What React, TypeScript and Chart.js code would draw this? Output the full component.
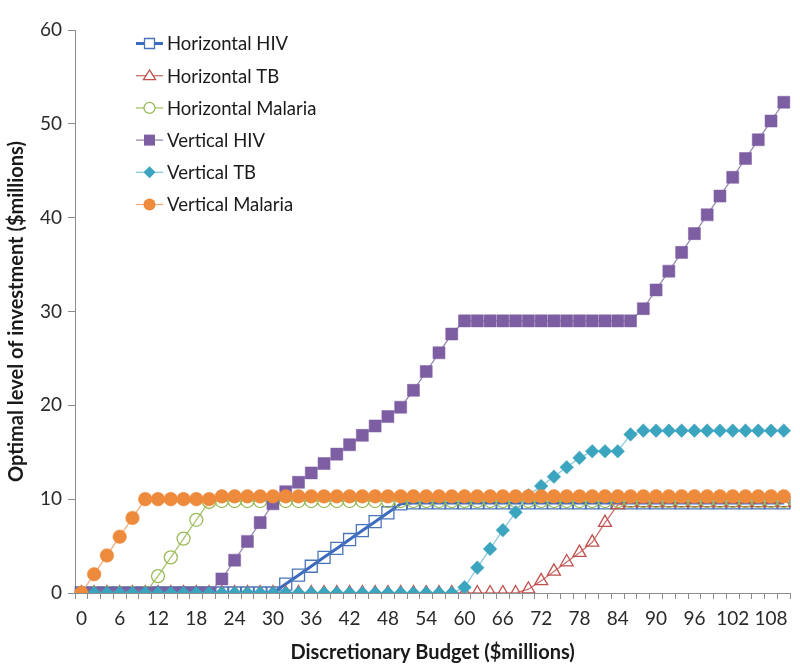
import React, { useEffect, useRef } from "react";
import { Chart, registerables } from "chart.js";

Chart.register(...registerables);

const budgets = [0, 2, 4, 6, 8, 10, 12, 14, 16, 18, 20, 22, 24, 26, 28, 30, 32, 34, 36, 38, 40, 42, 44, 46, 48, 50, 52, 54, 56, 58, 60, 62, 64, 66, 68, 70, 72, 74, 76, 78, 80, 82, 84, 86, 88, 90, 92, 94, 96, 98, 100, 102, 104, 106, 108, 110];

const horizontalHIV = [0, 0, 0, 0, 0, 0, 0, 0, 0, 0, 0, 0, 0, 0, 0, 0, 0.95, 1.9, 2.85, 3.8, 4.75, 5.7, 6.65, 7.6, 8.55, 9.5, 9.6, 9.6, 9.6, 9.6, 9.6, 9.6, 9.6, 9.6, 9.6, 9.6, 9.6, 9.6, 9.6, 9.6, 9.6, 9.6, 9.6, 9.6, 9.6, 9.6, 9.6, 9.6, 9.6, 9.6, 9.6, 9.6, 9.6, 9.6, 9.6, 9.6];

const horizontalTB = [0, 0, 0, 0, 0, 0, 0, 0, 0, 0, 0, 0, 0, 0, 0, 0, 0, 0, 0, 0, 0, 0, 0, 0, 0, 0, 0, 0, 0, 0, 0, 0, 0, 0, 0, 0.4, 1.3, 2.3, 3.3, 4.3, 5.4, 7.5, 9.4, 9.6, 9.6, 9.6, 9.6, 9.6, 9.6, 9.6, 9.6, 9.6, 9.6, 9.6, 9.6, 9.6];

const horizontalMalaria = [0, 0, 0, 0, 0, 0, 1.8, 3.8, 5.8, 7.8, 9.7, 9.8, 9.8, 9.8, 9.8, 9.8, 9.8, 9.8, 9.8, 9.8, 9.8, 9.8, 9.8, 9.8, 9.8, 9.8, 9.8, 9.8, 9.8, 9.8, 9.8, 9.8, 9.8, 9.8, 9.8, 9.8, 9.8, 9.8, 9.8, 9.8, 9.8, 9.8, 9.8, 9.8, 9.8, 9.8, 9.8, 9.8, 9.8, 9.8, 9.8, 9.8, 9.8, 9.8, 9.8, 9.8];

const verticalHIV = [0, 0, 0, 0, 0, 0, 0, 0, 0, 0, 0, 1.5, 3.5, 5.5, 7.5, 9.5, 10.8, 11.8, 12.8, 13.8, 14.8, 15.8, 16.8, 17.8, 18.8, 19.8, 21.6, 23.6, 25.6, 27.6, 29.0, 29.0, 29.0, 29.0, 29.0, 29.0, 29.0, 29.0, 29.0, 29.0, 29.0, 29.0, 29.0, 29.0, 30.3, 32.3, 34.3, 36.3, 38.3, 40.3, 42.3, 44.3, 46.3, 48.3, 50.3, 52.3];

const verticalTB = [0, 0, 0, 0, 0, 0, 0, 0, 0, 0, 0, 0, 0, 0, 0, 0, 0, 0, 0, 0, 0, 0, 0, 0, 0, 0, 0, 0, 0, 0, 0.6, 2.7, 4.7, 6.7, 8.6, 10.4, 11.4, 12.4, 13.4, 14.4, 15.1, 15.1, 15.1, 16.9, 17.3, 17.3, 17.3, 17.3, 17.3, 17.3, 17.3, 17.3, 17.3, 17.3, 17.3, 17.3];

const verticalMalaria = [0, 2, 4, 6, 8, 10, 10, 10, 10, 10, 10, 10.3, 10.3, 10.3, 10.3, 10.3, 10.3, 10.3, 10.3, 10.3, 10.3, 10.3, 10.3, 10.3, 10.3, 10.3, 10.3, 10.3, 10.3, 10.3, 10.3, 10.3, 10.3, 10.3, 10.3, 10.3, 10.3, 10.3, 10.3, 10.3, 10.3, 10.3, 10.3, 10.3, 10.3, 10.3, 10.3, 10.3, 10.3, 10.3, 10.3, 10.3, 10.3, 10.3, 10.3, 10.3];

const seriesNames = ["Horizontal HIV", "Horizontal TB", "Horizontal Malaria", "Vertical HIV", "Vertical TB", "Vertical Malaria"];

const FONT = "Lato, 'Open Sans', sans-serif";

type LegendItemStyle = {
  line: string;
  lineWidth: number;
  marker: string;
  fill: string | null;
  shape: "rect" | "triangle" | "circle" | "rectRot";
  size: number;
};

const legendStyles: LegendItemStyle[] = [
  { line: "#3a6bbf", lineWidth: 3, marker: "#4a74b8", fill: null, shape: "rect", size: 5 },
  { line: "#c9716e", lineWidth: 1.3, marker: "#c0504d", fill: null, shape: "triangle", size: 6 },
  { line: "#a8c46e", lineWidth: 1.3, marker: "#9bbb59", fill: null, shape: "circle", size: 5.5 },
  { line: "#9a8ab2", lineWidth: 1.3, marker: "#7d5ea2", fill: "#7d5ea2", shape: "rect", size: 5.5 },
  { line: "#8ccbdb", lineWidth: 1.3, marker: "#3ba4be", fill: "#3ba4be", shape: "rectRot", size: 6 },
  { line: "#f1ad7c", lineWidth: 1.3, marker: "#ee8a3c", fill: "#ee8a3c", shape: "circle", size: 6 },
];

function drawMarker(ctx: CanvasRenderingContext2D, s: LegendItemStyle, x: number, y: number) {
  ctx.beginPath();
  const r = s.size;
  if (s.shape === "rect") {
    ctx.rect(x - r, y - r, 2 * r, 2 * r);
  } else if (s.shape === "circle") {
    ctx.arc(x, y, r, 0, Math.PI * 2);
  } else if (s.shape === "rectRot") {
    ctx.moveTo(x - r, y);
    ctx.lineTo(x, y - r);
    ctx.lineTo(x + r, y);
    ctx.lineTo(x, y + r);
    ctx.closePath();
  } else {
    const h = r * 1.6;
    ctx.moveTo(x, y - h * 0.6);
    ctx.lineTo(x + r, y + h * 0.4);
    ctx.lineTo(x - r, y + h * 0.4);
    ctx.closePath();
  }
  if (s.fill) {
    ctx.fillStyle = s.fill;
    ctx.fill();
  } else {
    ctx.fillStyle = "#ffffff";
    ctx.fill();
    ctx.strokeStyle = s.marker;
    ctx.lineWidth = 1.3;
    ctx.stroke();
  }
}

const insideLegend = {
  id: "insideLegend",
  afterDraw(chart: any) {
    const ctx: CanvasRenderingContext2D = chart.ctx;
    const area = chart.chartArea;
    const x0 = area.left + 61;
    const x1 = area.left + 88;
    const textX = area.left + 92;
    const y0 = area.top + 13.5;
    const dy = 32.2;
    ctx.save();
    seriesNames.forEach((name, i) => {
      const s = legendStyles[i];
      const y = y0 + i * dy;
      ctx.beginPath();
      ctx.strokeStyle = s.line;
      ctx.lineWidth = s.lineWidth;
      ctx.moveTo(x0, y);
      ctx.lineTo(x1, y);
      ctx.stroke();
      drawMarker(ctx, s, (x0 + x1) / 2, y);
      ctx.fillStyle = "#1a1a1a";
      ctx.font = `18.5px ${FONT}`;
      ctx.textAlign = "left";
      ctx.textBaseline = "middle";
      ctx.fillText(name, textX, y + 1);
    });
    ctx.restore();
  },
};

export default function App() {
  const canvasRef = useRef<HTMLCanvasElement | null>(null);

  useEffect(() => {
    if (!canvasRef.current) return;
    const chart = new Chart(canvasRef.current, {
      type: "line",
      data: {
        labels: budgets.map(String),
        datasets: [
          {
            label: seriesNames[0],
            data: horizontalHIV,
            borderColor: "#3a6bbf",
            borderWidth: 3,
            pointStyle: "rect",
            pointRadius: 8.5,
            pointBorderColor: "#4a74b8",
            pointBackgroundColor: "rgba(255,255,255,0)",
            pointBorderWidth: 1.3,
            order: 5,
          },
          {
            label: seriesNames[1],
            data: horizontalTB,
            borderColor: "#c9716e",
            borderWidth: 1.3,
            pointStyle: "triangle",
            pointRadius: 7.5,
            pointBorderColor: "#c0504d",
            pointBackgroundColor: "rgba(255,255,255,0)",
            pointBorderWidth: 1.3,
            order: 4,
          },
          {
            label: seriesNames[2],
            data: horizontalMalaria,
            borderColor: "#a8c46e",
            borderWidth: 1.3,
            pointStyle: "circle",
            pointRadius: 6.5,
            pointBorderColor: "#9bbb59",
            pointBackgroundColor: "rgba(255,255,255,0)",
            pointBorderWidth: 1.3,
            order: 3,
          },
          {
            label: seriesNames[3],
            data: verticalHIV,
            borderColor: "#9a8ab2",
            borderWidth: 1.3,
            pointStyle: "rect",
            pointRadius: 8.5,
            pointBorderColor: "#7d5ea2",
            pointBackgroundColor: "#7d5ea2",
            pointBorderWidth: 0.5,
            order: 2,
          },
          {
            label: seriesNames[4],
            data: verticalTB,
            borderColor: "#8ccbdb",
            borderWidth: 1.3,
            pointStyle: "rectRot",
            pointRadius: 6.8,
            pointBorderColor: "#3ba4be",
            pointBackgroundColor: "#3ba4be",
            pointBorderWidth: 0.5,
            order: 1,
          },
          {
            label: seriesNames[5],
            data: verticalMalaria,
            borderColor: "#f1ad7c",
            borderWidth: 1.3,
            pointStyle: "circle",
            pointRadius: 6.8,
            pointBorderColor: "#ee8a3c",
            pointBackgroundColor: "#ee8a3c",
            pointBorderWidth: 0.5,
            order: 0,
          },
        ],
      },
      options: {
        animation: false,
        responsive: true,
        maintainAspectRatio: false,
        events: [],
        layout: { padding: { top: 30, right: 3, bottom: 0, left: 0 } },
        plugins: {
          legend: { display: false },
          tooltip: { enabled: false },
        },
        scales: {
          x: {
            type: "category",
            offset: true,
            afterFit: (scale: any) => {
              scale.height = 76;
            },
            grid: {
              offset: true,
              drawOnChartArea: false,
              drawTicks: true,
              tickLength: 6,
              color: "#8c8c8c",
            },
            border: { display: true, color: "#8c8c8c", width: 1 },
            ticks: {
              autoSkip: false,
              maxRotation: 0,
              minRotation: 0,
              padding: 8,
              color: "#2a2a2a",
              font: { family: FONT, size: 19 },
              callback: (_v: any, index: number) => (index % 3 === 0 ? String(budgets[index]) : ""),
            },
            title: {
              display: true,
              text: "Discretionary Budget ($millions)",
              color: "#1a1a1a",
              font: { family: FONT, size: 20, weight: "bold" },
              padding: { top: 0, bottom: 4 },
            },
          },
          y: {
            min: 0,
            max: 60,
            afterFit: (scale: any) => {
              scale.width = 75;
            },
            grid: {
              drawOnChartArea: false,
              drawTicks: true,
              tickLength: 7,
              color: "#8c8c8c",
            },
            border: { display: true, color: "#8c8c8c", width: 1 },
            ticks: {
              stepSize: 10,
              padding: 6,
              color: "#2a2a2a",
              font: { family: FONT, size: 19 },
            },
            title: {
              display: true,
              text: "Optimal level of investment ($millions)",
              color: "#1a1a1a",
              font: { family: FONT, size: 20, weight: "bold" },
              padding: { top: 5, bottom: 0 },
            },
          },
        },
      },
      plugins: [insideLegend],
    });
    return () => chart.destroy();
  }, []);

  return (
    <div style={{ position: "fixed", left: 0, top: 0, width: 800, height: 669, background: "#ffffff" }}>
      <canvas ref={canvasRef} />
    </div>
  );
}
